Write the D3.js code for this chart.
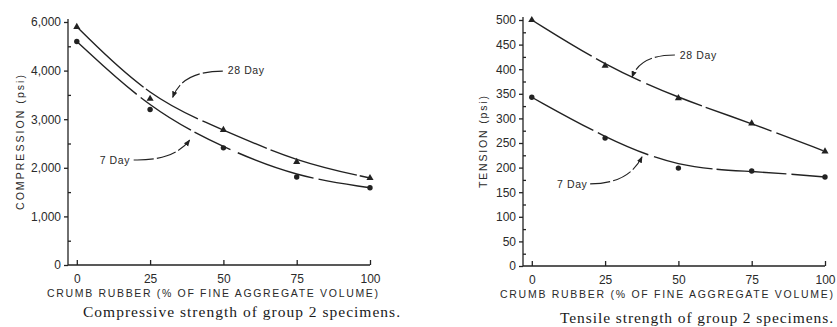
<!DOCTYPE html>
<html>
<head>
<meta charset="utf-8">
<script src="https://cdn.jsdelivr.net/npm/d3@7"></script>
<style>
  body { margin: 0; background: #fff; }
  svg { display: block; }
</style>
</head>
<body>
<div id="chart"></div>
<script>
// crumb rubber content (% of fine aggregate volume)
const rubber = [0, 25, 50, 75, 100]

// compressive strength (psi)
const comp28 = [4900, 3420, 2780, 2120, 1790]
const comp7 = [4600, 3200, 2410, 1810, 1590]
const compTicks = [0, 1000, 2000, 3000, 4000, 5000]
const compTickLabels = ["0", "1,000", "2,000", "3,000", "4,000", "6,000"]

// tensile strength (psi)
const tens28 = [500, 407, 341, 290, 233]
const tens7 = [343, 260, 199, 193, 181]
const tensTicks = [0, 50, 100, 150, 200, 250, 300, 350, 400, 450, 500]
const tensTickLabels = ["0", "50", "100", "150", "200", "250", "300", "350", "400", "450", "500"]

const xTicks = [0, 25, 50, 75, 100]

const width = 837
const height = 327

const svg = d3.select("#chart")
    .append("svg")
    .attr("width", width)
    .attr("height", height)
    .attr("viewBox", [0, 0, width, height])

svg.append("defs").append("marker")
    .attr("id", "arrow")
    .attr("viewBox", "0 0 10 10")
    .attr("refX", 9)
    .attr("refY", 5)
    .attr("markerWidth", 6)
    .attr("markerHeight", 6)
    .attr("orient", "auto")
    .append("path")
    .attr("d", "M0,1 L10,5 L0,9 z")
    .attr("fill", "#222")

const ink = "#222"

function panel(opt) {
    const x = d3.scaleLinear().domain([-3, 100]).range(opt.xRange)
    const y = d3.scaleLinear().domain(opt.yDomain).range(opt.yRange)
    const g = svg.append("g")

    // y axis
    const yAxis = g.append("g")
        .attr("transform", `translate(${opt.xRange[0]},0)`)
        .call(d3.axisLeft(y).tickValues(opt.yTicks).tickSize(4)
            .tickFormat((d, i) => opt.yLabels[i]))
    yAxis.select(".domain").attr("d", `M0,${opt.yRange[0]}V${opt.yRange[1] - 3}`)
    g.append("g")
        .attr("transform", `translate(${opt.xRange[0]},0)`)
        .call(d3.axisRight(y).tickValues(opt.yMinor).tickSize(3).tickFormat(""))
        .select(".domain").remove()

    // x axis, ticks pointing up
    const xAxis = g.append("g")
        .attr("transform", `translate(0,${opt.yRange[0]})`)
        .call(d3.axisBottom(x).tickValues(xTicks).tickSizeInner(-5).tickSizeOuter(0).tickPadding(9))
    xAxis.select(".domain").attr("d", `M${opt.xRange[0]},0H${x(100)}`)

    g.selectAll(".domain, .tick line").attr("stroke", ink).attr("stroke-width", 1.3)
    g.selectAll(".tick text")
        .attr("fill", "#2a2a2a")
        .style("font-family", "Liberation Sans, Arial, sans-serif")
        .style("font-size", "12px")

    // curves
    const line = d3.line().x((d, i) => x(rubber[i])).y(d => y(d)).curve(d3.curveBasis)
    opt.series.forEach(s => {
        g.append("path")
            .datum(s.values)
            .attr("fill", "none")
            .attr("stroke", ink)
            .attr("stroke-width", 1.4)
            .attr("stroke-dasharray", s.dash)
            .attr("d", line)
        if (s.shape === "tri") {
            g.selectAll(null).data(s.values).join("path")
                .attr("transform", (d, i) => `translate(${x(rubber[i])},${y(d)})`)
                .attr("d", d3.symbol(d3.symbolTriangle, 22))
                .attr("fill", ink)
        } else {
            g.selectAll(null).data(s.values).join("circle")
                .attr("cx", (d, i) => x(rubber[i]))
                .attr("cy", d => y(d))
                .attr("r", 2.7)
                .attr("fill", ink)
        }
    })

    // annotations with curved arrows
    opt.notes.forEach(n => {
        g.append("text")
            .attr("x", x(n.at[0]))
            .attr("y", y(n.at[1]))
            .attr("fill", "#2a2a2a")
            .style("font-family", "Liberation Sans, Arial, sans-serif")
            .style("font-size", "10.5px")
            .style("letter-spacing", "0.6px")
            .text(n.text)
        const p = d3.path()
        p.moveTo(x(n.arrow[0][0]), y(n.arrow[0][1]))
        p.quadraticCurveTo(x(n.arrow[1][0]), y(n.arrow[1][1]), x(n.arrow[2][0]), y(n.arrow[2][1]))
        g.append("path")
            .attr("d", p.toString())
            .attr("fill", "none")
            .attr("stroke", ink)
            .attr("stroke-width", 1.1)
            .attr("stroke-dasharray", "20,3")
            .attr("marker-end", "url(#arrow)")
    })

    // axis titles
    g.append("text")
        .attr("x", opt.xTitle[0])
        .attr("y", opt.xTitle[1])
        .attr("textLength", opt.xTitle[2])
        .attr("lengthAdjust", "spacing")
        .attr("fill", "#2a2a2a")
        .style("font-family", "Liberation Sans, Arial, sans-serif")
        .style("font-size", "10.5px")
        .text("CRUMB RUBBER (% OF FINE AGGREGATE VOLUME)")
    g.append("text")
        .attr("transform", `translate(${opt.yTitle[0]},${opt.yTitle[1]}) rotate(-90)`)
        .attr("textLength", opt.yTitle[2])
        .attr("lengthAdjust", "spacing")
        .attr("fill", "#2a2a2a")
        .style("font-family", "Liberation Sans, Arial, sans-serif")
        .style("font-size", "10.5px")
        .text(opt.yText)

    // caption
    g.append("text")
        .attr("x", opt.caption[0])
        .attr("y", opt.caption[1])
        .attr("textLength", opt.caption[2])
        .attr("lengthAdjust", "spacing")
        .attr("fill", "#1a1a1a")
        .style("font-family", "Liberation Serif, Times New Roman, serif")
        .style("font-size", "15.5px")
        .text(opt.captionText)
}

panel({
    xRange: [68, 370],
    yDomain: [0, 5000],
    yRange: [265, 22],
    yTicks: compTicks,
    yLabels: compTickLabels,
    yMinor: d3.range(500, 5000, 1000),
    series: [
        {values: comp28, shape: "tri", dash: "90,3,60,5,70,4"},
        {values: comp7, shape: "dot", dash: "80,5,60,4,40,8"}
    ],
    notes: [
        {text: "28 Day", at: [51.5, 3930], arrow: [[49.8, 3990], [36, 3990], [32.7, 3450]]},
        {text: "7 Day", at: [7.8, 2078], arrow: [[19.4, 2160], [33, 2140], [38.5, 2570]]}
    ],
    xTitle: [47, 297, 331],
    yTitle: [24, 210, 135],
    yText: "COMPRESSION (psi)",
    caption: [83, 317, 317],
    captionText: "Compressive strength of group 2 specimens."
})

panel({
    xRange: [523, 825],
    yDomain: [0, 500],
    yRange: [266, 20],
    yTicks: tensTicks,
    yLabels: tensTickLabels,
    yMinor: d3.range(25, 500, 50),
    series: [
        {values: tens28, shape: "tri", dash: "70,5,50,6,60,4"},
        {values: tens7, shape: "dot", dash: "70,5,55,6,60,4"}
    ],
    notes: [
        {text: "28 Day", at: [50.5, 421], arrow: [[48.8, 429], [37, 429], [34.2, 384]]},
        {text: "7 Day", at: [8.6, 158.5], arrow: [[19.9, 167], [33, 167], [37.6, 222]]}
    ],
    xTitle: [500, 298, 333],
    yTitle: [487, 188, 92],
    yText: "TENSION (psi)",
    caption: [560, 323, 273],
    captionText: "Tensile strength of group 2 specimens."
})
</script>
</body>
</html>
